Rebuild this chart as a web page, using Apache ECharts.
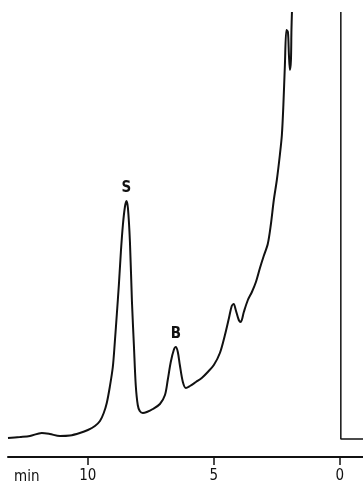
<!DOCTYPE html>
<html><head><meta charset="utf-8">
<script src="https://cdn.jsdelivr.net/npm/echarts@6/dist/echarts.min.js"></script>
<style>html,body{margin:0;padding:0;background:#fff}#c{width:363px;height:482px}</style>
</head><body><div id="c"></div>
<script>
// retention time (min) and detector signal (arbitrary units)
var timeMin = [13.17,12.70,12.30,11.83,11.51,11.11,10.71,10.32,10.00,9.72,9.52,9.37,9.25,9.13,9.01,8.93,8.85,8.77,8.69,8.61,8.53,8.47,8.41,8.33,8.25,8.17,8.10,8.02,7.94,7.82,7.66,7.42,7.14,6.94,6.83,6.71,6.59,6.51,6.43,6.35,6.23,6.11,5.95,5.71,5.48,5.24,5.00,4.76,4.56,4.40,4.29,4.21,4.13,4.01,3.93,3.81,3.65,3.49,3.33,3.17,3.02,2.86,2.74,2.62,2.50,2.38,2.30,2.24,2.18,2.12,2.06,2.02,1.98,1.94,1.92,1.90];
var signal  = [19,20,21,24,23,21,21.5,24,27,31,36,44,54,70,90,115,143,172,205,232,250,256,249,215,155,110,72,52,46,44,45,48,53,62,77,95,107,110,105,92,75,69,71,75,79,85,92,104,122,139,151,153,147,137,135,145,157,165,175,189,201,213,232,257,277,302,322,352,392,427,425,402,387,397,427,445];
// injection marker trace
var markerTime   = [-0.04,-0.04,-0.92];
var markerSignal = [445,18,18];
// peak labels
var peakNames = ['S','B'];
var peakTimes = [8.47,6.51];
var tickValues = [10,5,0];

var FONT = '"DejaVu Sans Condensed","DejaVu Sans",sans-serif';
var data = timeMin.map(function(t,i){
  var k = peakTimes.indexOf(t);
  if (k >= 0) return {value:[t,signal[i]], label:{show:true, formatter:peakNames[k], position:'top', distance:5, color:'#111', fontSize:15, fontWeight:'bold', fontFamily:FONT}};
  return [t,signal[i]];
});
var marker = markerTime.map(function(t,i){return [t,markerSignal[i]];});

var chart = echarts.init(document.getElementById('c'));
chart.setOption({
  animation:false,
  grid:{left:8,right:0,top:10,bottom:25,containLabel:false,outerBoundsMode:'none'},
  xAxis:{type:'value',inverse:true,min:-0.92,max:13.17,
    axisLine:{onZero:false,lineStyle:{color:'#111',width:2}},
    axisTick:{show:true,customValues:tickValues,length:8,lineStyle:{color:'#111',width:1.5}},
    axisLabel:{customValues:tickValues,color:'#111',fontSize:15,fontFamily:FONT,margin:12},
    splitLine:{show:false}},
  yAxis:{type:'value',min:0,max:447,show:false},
  graphic:[{type:'text',left:14,top:470,style:{text:'min',fill:'#111',fontSize:15,fontFamily:FONT}}],
  series:[
    {type:'line',data:data,showSymbol:true,symbol:'circle',symbolSize:0,smooth:0.3,lineStyle:{color:'#111',width:2},label:{show:false},silent:true},
    {type:'line',data:marker,showSymbol:false,symbol:'none',lineStyle:{color:'#111',width:1.5},silent:true}
  ]
});
</script></body></html>
